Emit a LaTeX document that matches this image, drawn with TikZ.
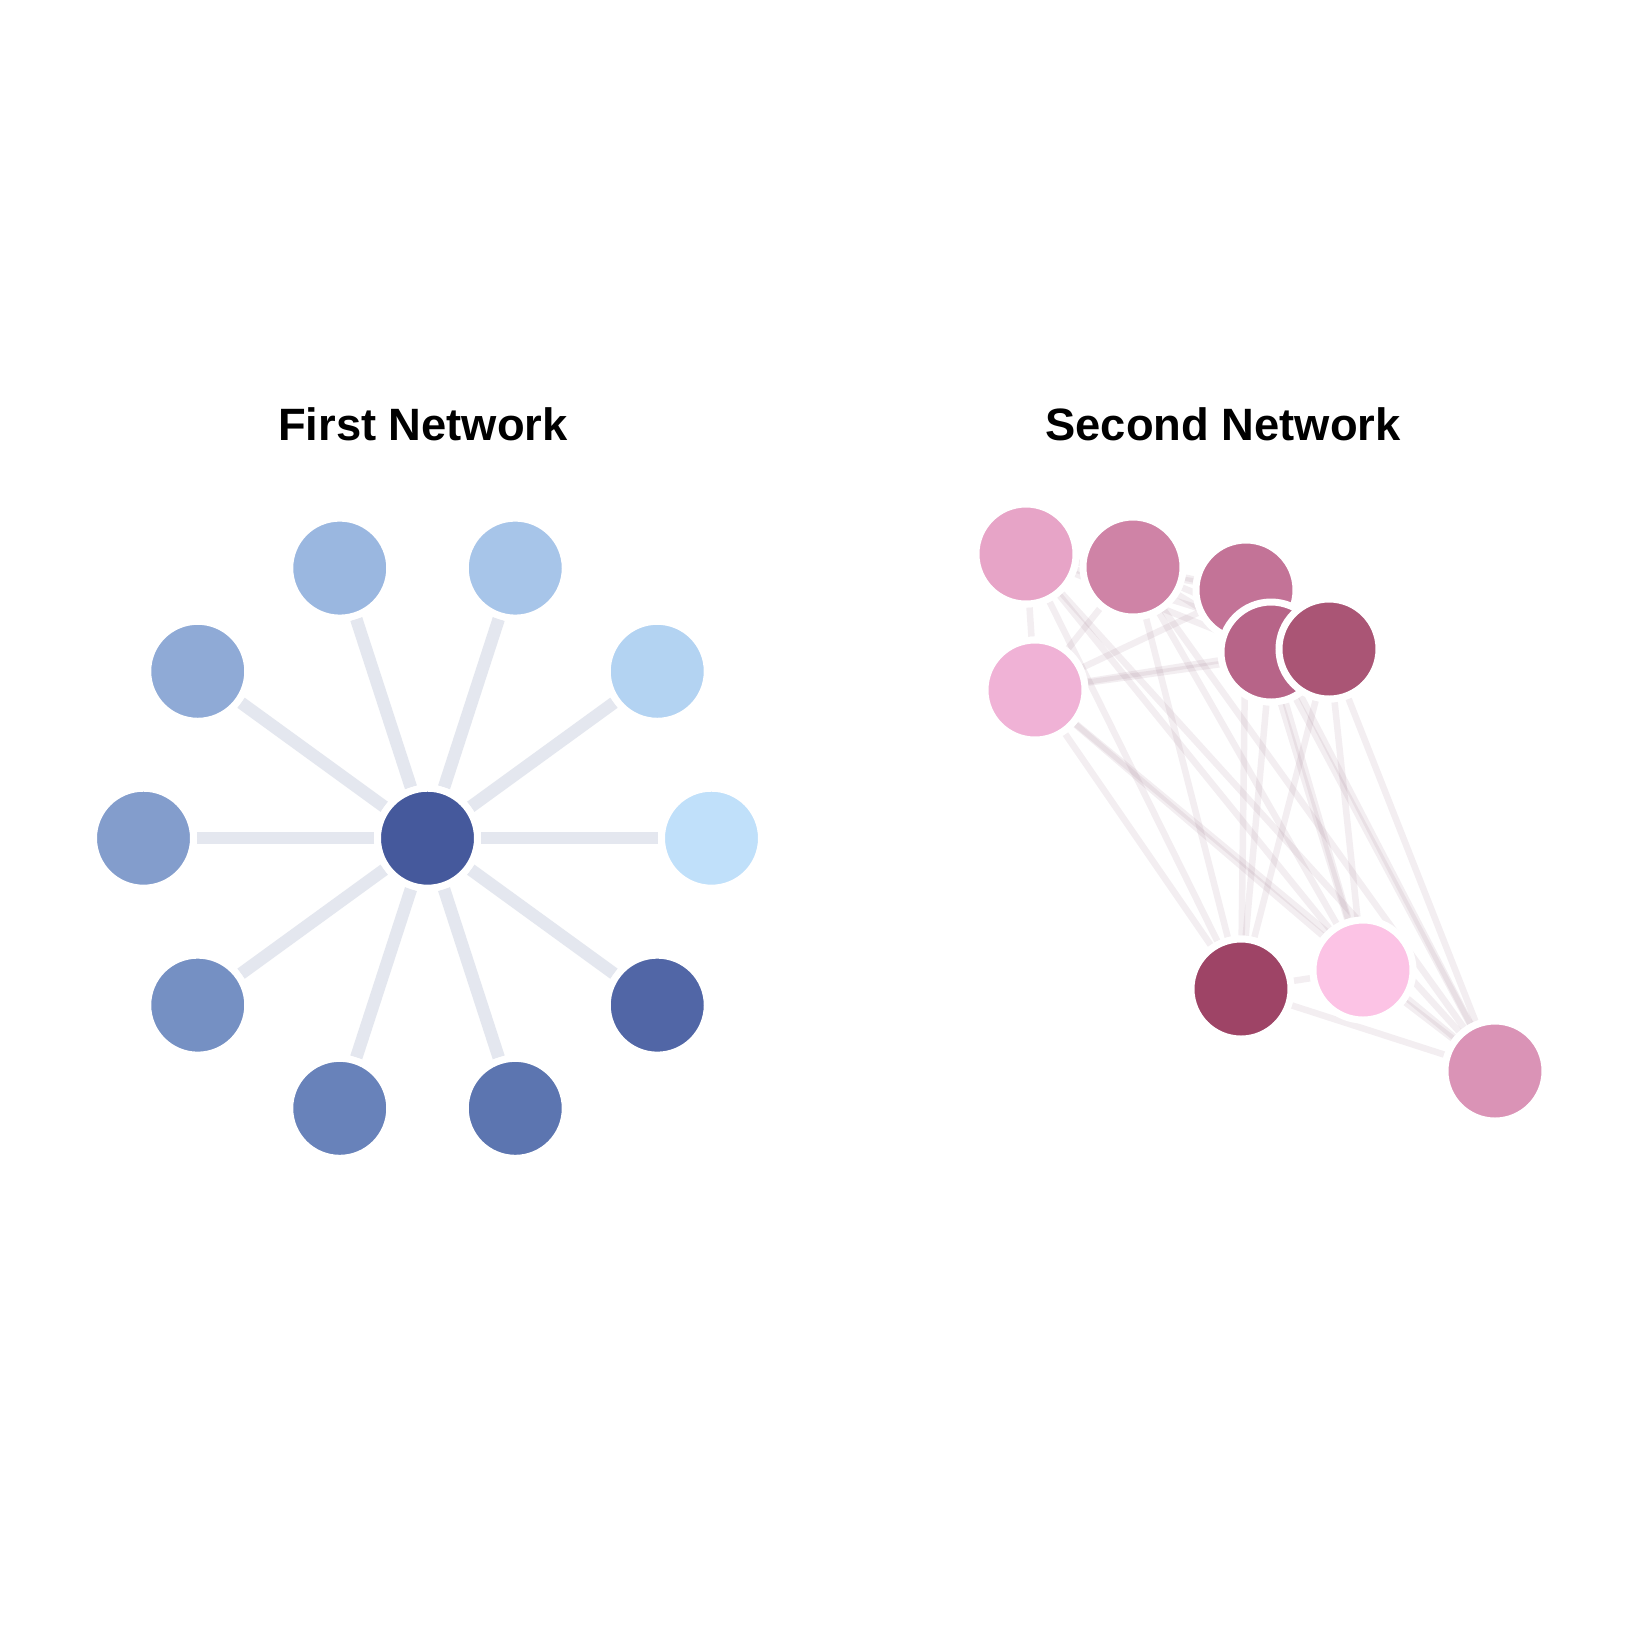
\documentclass[tikz,border=0pt]{standalone}
\usepackage{fontspec}
\setmainfont{Liberation Sans}
\usetikzlibrary{backgrounds}
\definecolor{bhub}{HTML}{45599C}
\definecolor{bedge}{HTML}{E4E7EF}
\definecolor{pedge}{HTML}{946A80}
\definecolor{pinkA}{HTML}{E7A4C7}
\definecolor{pinkB}{HTML}{CF83A6}
\definecolor{pinkC}{HTML}{C37397}
\definecolor{pinkD}{HTML}{B76488}
\definecolor{pinkE}{HTML}{AA5575}
\definecolor{pinkF}{HTML}{F0B2D6}
\definecolor{pinkG}{HTML}{9E4466}
\definecolor{pinkH}{HTML}{FCC3E5}
\definecolor{pinkI}{HTML}{DA93B6}

\tikzset{
  vertex/.style={circle, draw=white, line width=0.07cm, inner sep=0pt, minimum size=1cm},
  spoke/.style={bedge, line width=0.125cm},
  link/.style={pedge, opacity=0.11, line width=0.065cm},
  title/.style={font=\bfseries\fontsize{12.9}{15}\selectfont, anchor=base}
}

\begin{document}
\begin{tikzpicture}[x=1cm, y=-1cm]
  \begin{scope}[on background layer]
    \fill [white] (0, 0) rectangle (16.47, 16.47);
  \end{scope}
  \useasboundingbox (0, 0) rectangle (16.47, 16.47);

  \node [title] (title1) at (4.23, 4.40) {First Network};
  \node [title] (title2) at (12.23, 4.40) {Second Network};

  % first network: hub and ring
  \node [vertex, fill=bhub] (hub) at (4.275, 8.382) {};
  \foreach \i/\col in {0/C0E0FA, 1/B3D3F2, 2/A7C5E9, 3/9AB7E0, 4/8FAAD6,
                       5/839DCC, 6/7590C3, 7/6882BA, 8/5C75B0, 9/5166A6} {
    \definecolor{tmp}{HTML}{\col}
    \node [vertex, fill=tmp] (n\i) at ({4.275+2.84*cos(36*\i)}, {8.382-2.84*sin(36*\i)}) {};
  }
  \begin{scope}[on background layer]
    \foreach \i in {0,...,9}
      \draw [spoke] (hub) -- (n\i);
  \end{scope}

  % second network
  \node [vertex, fill=pinkA] (a) at (10.26, 5.54) {};
  \node [vertex, fill=pinkB] (b) at (11.33, 5.67) {};
  \node [vertex, fill=pinkC] (c) at (12.46, 5.90) {};
  \node [vertex, fill=pinkD] (d) at (12.71, 6.52) {};
  \node [vertex, fill=pinkE] (e) at (13.29, 6.49) {};
  \node [vertex, fill=pinkF] (f) at (10.35, 6.90) {};
  \node [vertex, fill=pinkG] (g) at (12.41, 9.89) {};
  \node [vertex, fill=pinkH] (h) at (13.63, 9.70) {};
  \node [vertex, fill=pinkI] (i) at (14.95, 10.71) {};

  \begin{scope}[on background layer]
    \foreach \u in {a,...,f}
      \foreach \v in {g,h,i}
        \draw [link] (\u) -- (\v);
    \foreach \u/\v in {a/f, b/f, c/f, d/f, e/f, a/c, a/d, a/e,
                       b/c, b/d, b/e, g/h, g/i, h/i}
      \draw [link] (\u) -- (\v);
  \end{scope}
\end{tikzpicture}
\end{document}
